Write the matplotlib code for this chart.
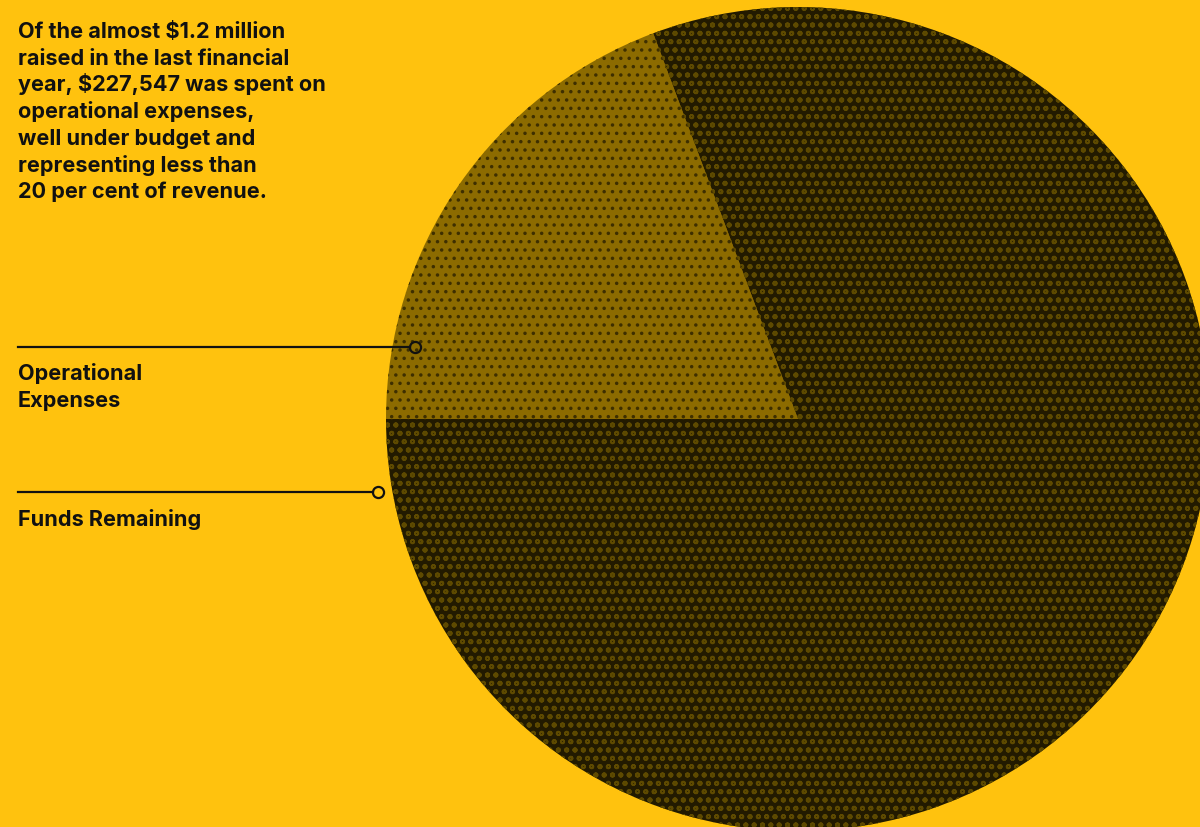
import matplotlib
matplotlib.use('Agg')
import matplotlib.pyplot as plt

# data
labels = ['Operational Expenses', 'Funds Remaining']
total_raised = 1180000
operational = 227547
values = [operational, total_raised - operational]

intro_lines = ['Of the almost $1.2 million',
               'raised in the last financial',
               'year, $227,547 was spent on',
               'operational expenses,',
               'well under budget and',
               'representing less than',
               '20 per cent of revenue.']
op_label_lines = ['Operational', 'Expenses']
funds_label_lines = ['Funds Remaining']

bg = '#FFC20E'
W, H = 1200, 828

plt.rcParams['hatch.linewidth'] = 1.3

fig = plt.figure(figsize=(W / 100, H / 100), dpi=100, facecolor=bg)
ax = fig.add_axes([0, 0, 1, 1])
ax.set_facecolor(bg)

# pie in pixel coordinates (y up)
cx, cy, r = 798, H - 420, 412
frac = values[0] / sum(values)
wedges, _ = ax.pie(values, center=(cx, cy), radius=r,
                   startangle=180 - frac * 360, counterclock=True,
                   colors=['#8C6B00', '#221A00'],
                   wedgeprops=dict(linewidth=0))
wedges[0].set_hatch('..')
wedges[0].set_edgecolor('#3e2f00')
wedges[1].set_hatch('oo')
wedges[1].set_edgecolor('#5e4a00')

ax.set_xlim(0, W)
ax.set_ylim(0, H)
ax.set_aspect('equal')
ax.axis('off')

font = 'Inter'
fs = 15.6

def put_lines(lines, x, y_first, step):
    for i, s in enumerate(lines):
        ax.text(x, H - (y_first + i * step), s, fontsize=fs, fontweight='bold',
                family=font, color='#111111', va='baseline', ha='left')

put_lines(intro_lines, 18, 38, 26.7)

# leader lines with open circle markers
ax.plot([18, 410], [H - 348, H - 348], color='#111111', lw=1.6)
ax.plot([415], [H - 348], marker='o', ms=8, mfc='none', mec='#111111', mew=1.6)
put_lines(op_label_lines, 18, 380, 27)

ax.plot([18, 373], [H - 493, H - 493], color='#111111', lw=1.6)
ax.plot([378], [H - 493], marker='o', ms=8, mfc='none', mec='#111111', mew=1.6)
put_lines(funds_label_lines, 18, 526, 27)

fig.savefig('out.png', dpi=100, facecolor=bg)
